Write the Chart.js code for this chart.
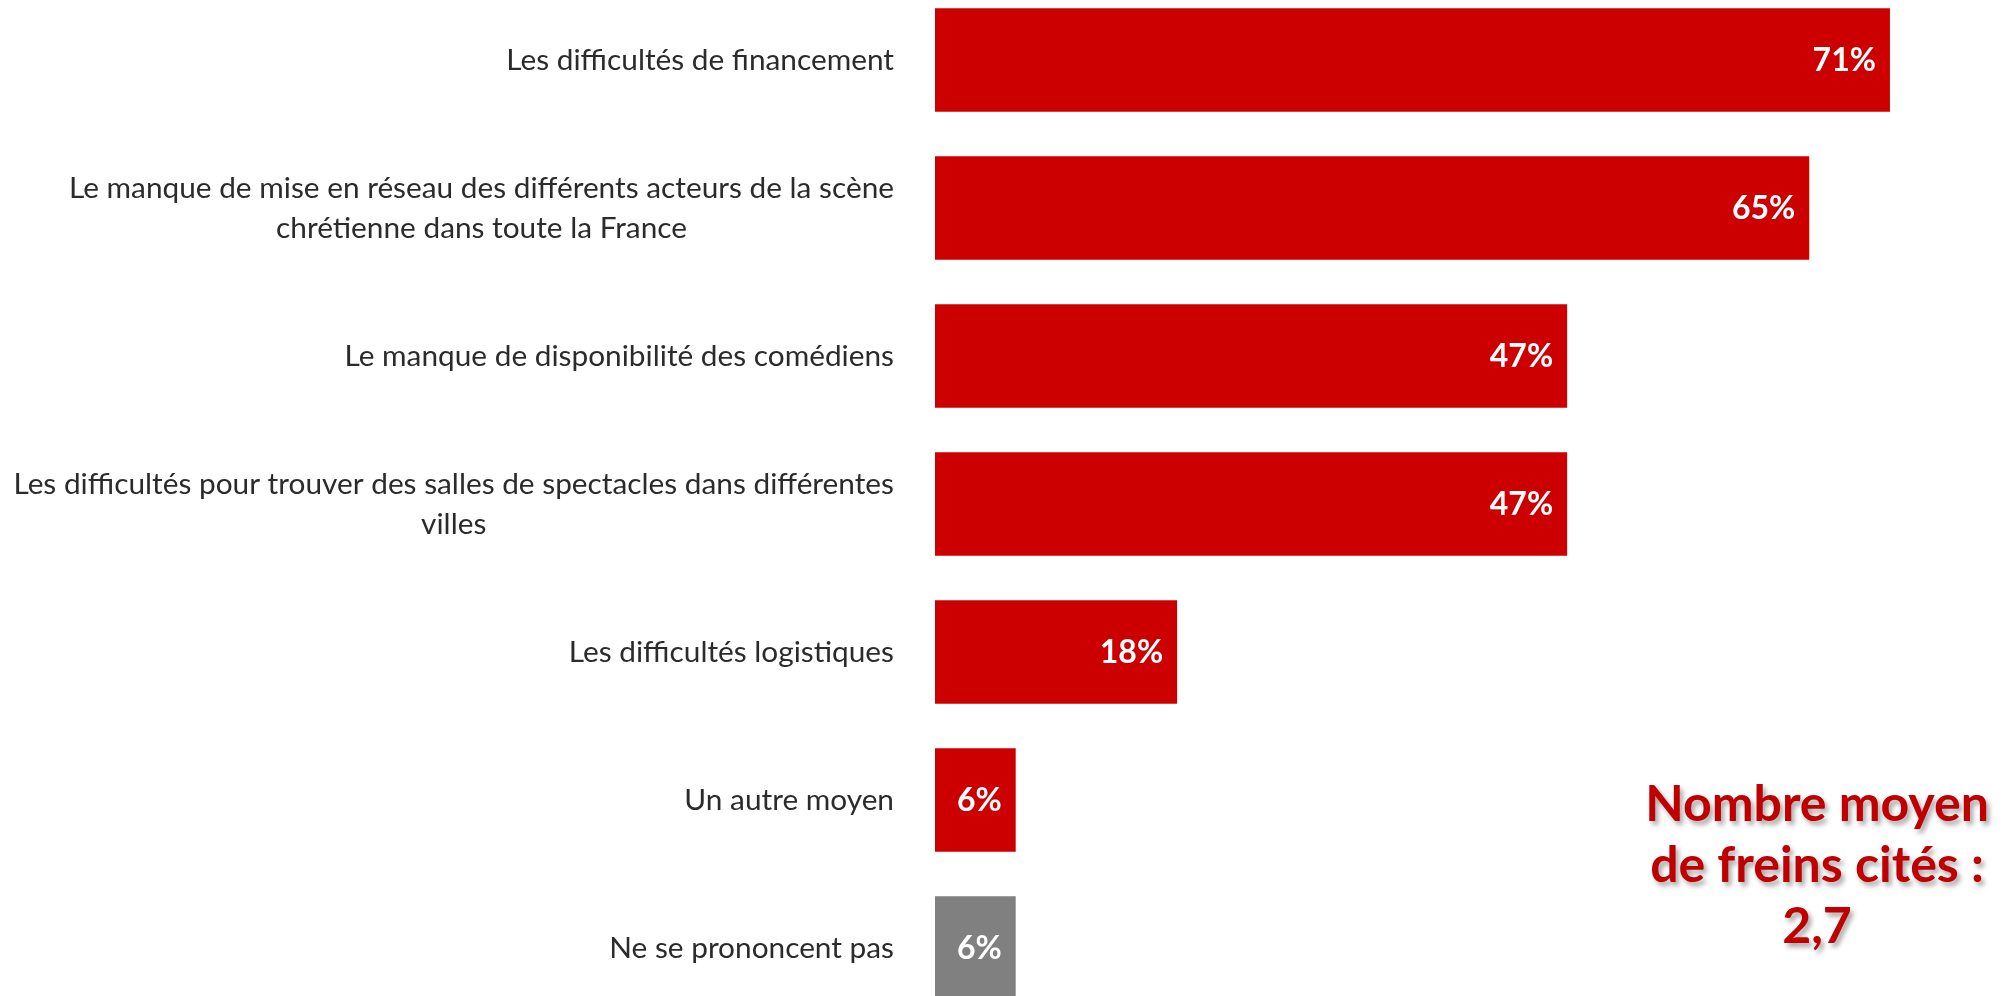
<!DOCTYPE html>
<html lang="fr">
<head>
<meta charset="utf-8">
<title>Freins cités</title>
<script src="https://cdn.jsdelivr.net/npm/chart.js@4/dist/chart.umd.min.js"></script>
<style>
  html, body { margin: 0; padding: 0; background: #fff; overflow: hidden; }
  body { width: 2011px; height: 996px; position: relative; }
  #wrap { position: absolute; left: 0; top: -14px; width: 2011px; height: 1036px; }
  #avg {
    position: absolute; left: 1617px; top: 772px; width: 400px;
    text-align: center; color: #c00000;
    font: bold 50px/61px Lato, sans-serif;
    text-shadow: 3px 4px 5px rgba(0,0,0,0.35);
  }
</style>
</head>
<body>
<div id="wrap"><canvas id="chart"></canvas></div>
<div id="avg">Nombre moyen<br>de freins cités :<br>2,7</div>

<script>
// ── Data ──
const labels = [
  ['Les difficultés de financement'],
  ['Le manque de mise en réseau des différents acteurs de la scène', 'chrétienne dans toute la France'],
  ['Le manque de disponibilité des comédiens'],
  ['Les difficultés pour trouver des salles de spectacles dans différentes', 'villes'],
  ['Les difficultés logistiques'],
  ['Un autre moyen'],
  ['Ne se prononcent pas'],
];
const values = [71, 65, 47, 47, 18, 6, 6];
const barColors = ['#cc0000', '#cc0000', '#cc0000', '#cc0000', '#cc0000', '#cc0000', '#808080'];

const LABEL_FONT = "29.8px Lato, sans-serif";
const VALUE_FONT = "bold 32px Lato, sans-serif";

// category labels on the left, each block right-aligned, lines centered within it
const categoryLabels = {
  id: 'categoryLabels',
  afterDraw(chart) {
    const { ctx } = chart;
    const yScale = chart.scales.y;
    const rightEdge = 894;
    const lineH = 40;
    ctx.save();
    ctx.font = LABEL_FONT;
    ctx.fillStyle = '#2b2b2b';
    ctx.textBaseline = 'middle';
    ctx.textAlign = 'center';
    labels.forEach((lines, i) => {
      const yc = yScale.getPixelForValue(i);
      const blockW = Math.max(...lines.map(l => ctx.measureText(l).width));
      const cx = rightEdge - blockW / 2;
      const y0 = yc - (lines.length - 1) * lineH / 2;
      lines.forEach((l, j) => ctx.fillText(l, cx, y0 + j * lineH));
    });
    ctx.restore();
  },
};

// value labels inside the end of each bar
const valueLabels = {
  id: 'valueLabels',
  afterDatasetsDraw(chart) {
    const { ctx } = chart;
    const meta = chart.getDatasetMeta(0);
    ctx.save();
    ctx.font = VALUE_FONT;
    ctx.fillStyle = '#ffffff';
    ctx.textBaseline = 'middle';
    ctx.textAlign = 'right';
    meta.data.forEach((bar, i) => {
      ctx.fillText(values[i] + '%', bar.x - 14, bar.y + 1);
    });
    ctx.restore();
  },
};

new Chart(document.getElementById('chart'), {
  type: 'bar',
  data: {
    labels: labels.map(l => l.join(' ')),
    datasets: [{
      data: values,
      backgroundColor: barColors,
      borderWidth: 0,
      barPercentage: 0.7,
      categoryPercentage: 1,
    }],
  },
  options: {
    indexAxis: 'y',
    responsive: true,
    maintainAspectRatio: false,
    animation: false,
    layout: { padding: { left: 935, right: 0, top: 0, bottom: 0 } },
    plugins: { legend: { display: false }, tooltip: { enabled: false } },
    scales: {
      x: { display: false, min: 0, max: 80 },
      y: { display: false },
    },
  },
  plugins: [categoryLabels, valueLabels],
});
</script>
</body>
</html>
